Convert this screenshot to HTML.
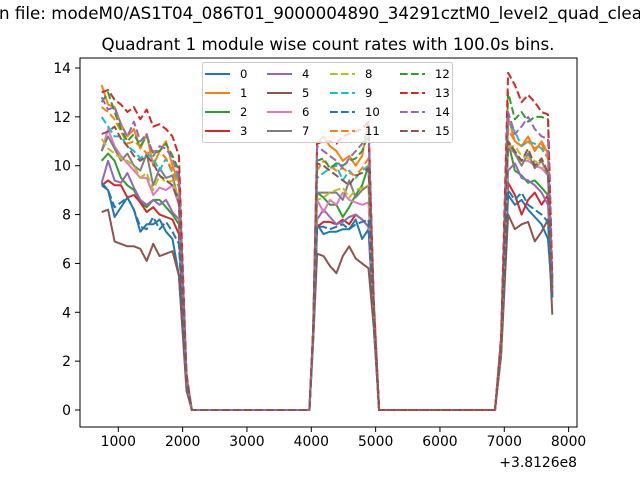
<!DOCTYPE html>
<html><head><meta charset="utf-8"><style>
body{margin:0;background:#fff;}
svg text{font-family:"DejaVu Sans","Liberation Sans",sans-serif;}
</style></head><body>
<svg id="c" width="640" height="480" xmlns="http://www.w3.org/2000/svg">
<rect width="640" height="480" fill="#fff"/>
<text x="-1" y="19" font-size="16.7">n file: modeM0/AS1T04_086T01_9000004890_34291cztM0_level2_quad_clean.evt</text>
<text x="328" y="50" font-size="16.7" text-anchor="middle">Quadrant 1 module wise count rates with 100.0s bins.</text>
<g id="plot"></g>
<rect x="80" y="58" width="497" height="369" fill="none" stroke="#000" stroke-width="1"/>
<g id="axes"></g>
<text x="577" y="467" font-size="13.9" text-anchor="end">+3.8126e8</text>
<g id="legend"></g>
</svg>
<script>
const xTicks=[1000,2000,3000,4000,5000,6000,7000,8000];
const yTicks=[0,2,4,6,8,10,12,14];
const names=["0","1","2","3","4","5","6","7","8","9","10","11","12","13","14","15"];
const colors=["#1f77b4","#ff7f0e","#2ca02c","#d62728","#9467bd","#8c564b","#e377c2","#7f7f7f","#bcbd22","#17becf","#1f77b4","#ff7f0e","#2ca02c","#d62728","#9467bd","#8c564b"];
const times1=[742,842,942,1042,1142,1242,1342,1442,1542,1642,1742,1842,1942];
const timeDrop1=2060, gap1=[2142,3970], timeRise2=4030;
const times2=[4090,4190,4290,4390,4490,4590,4690,4790,4890];
const timeDrop2=4970, gap2=[5054,6856], timeRise3=6950;
const times3=[7060,7165,7270,7370,7475,7580,7680];
const timeLast=7746;
const seg1=[
[9.2,9.0,7.9,8.3,8.7,8.2,7.3,7.6,7.6,7.8,7.3,7.0,5.5],
[13.3,12.5,12.4,11.7,11.2,11.5,10.7,11.3,10.0,10.6,11.0,10.0,9.3],
[10.2,10.5,10.2,9.5,9.2,9.0,8.5,8.3,8.6,8.6,8.3,8.0,7.6],
[9.2,9.4,9.2,9.2,8.7,8.8,8.5,8.1,8.3,8.0,7.9,7.8,7.2],
[9.3,10.2,9.4,9.3,9.7,9.1,8.6,8.4,8.6,8.4,8.6,8.1,7.8],
[8.1,8.2,6.9,6.8,6.7,6.7,6.6,6.1,6.8,6.3,6.4,6.5,5.5],
[10.6,11.5,10.8,10.4,10.1,9.8,9.5,9.5,8.8,9.1,9.0,9.2,8.4],
[10.6,11.2,10.7,10.2,10.5,10.0,9.8,10.5,9.2,9.9,9.5,9.6,8.5],
[11.1,10.7,10.5,10.3,10.2,10.0,9.5,9.7,9.0,9.6,9.3,9.4,8.6],
[12.0,11.6,11.2,11.2,10.8,10.6,10.3,10.5,10.3,9.8,10.3,9.7,9.5],
[9.3,9.0,8.3,8.5,8.7,8.2,7.5,7.4,7.9,7.4,7.7,7.3,6.8],
[12.4,12.2,11.9,11.4,10.9,11.0,10.8,10.5,10.6,10.6,10.3,9.8,9.1],
[12.6,13.0,12.2,11.5,11.0,11.3,10.8,11.2,10.5,10.6,10.9,10.4,9.8],
[13.0,13.1,12.7,12.5,12.2,12.4,11.9,12.3,11.6,11.7,11.5,11.2,10.4],
[12.8,12.3,12.4,11.7,11.2,11.8,11.0,11.3,10.4,10.8,10.7,10.3,9.5],
[11.3,11.4,11.6,11.1,10.8,10.4,10.2,10.4,10.1,9.6,9.4,9.2,8.5]];
const seg2=[
[7.6,7.2,7.3,7.3,7.4,7.4,7.8,7.0,7.4],
[10.9,11.2,10.8,10.6,10.2,10.4,10.0,10.4,11.8],
[8.9,8.7,8.4,8.4,7.9,8.3,8.8,9.2,10.0],
[7.5,7.7,7.7,7.6,7.8,7.6,8.0,7.8,7.5],
[7.8,8.2,7.9,7.6,7.7,7.9,8.0,7.8,7.5],
[6.4,6.3,5.9,5.6,6.3,6.7,6.2,6.0,5.8],
[8.6,8.1,8.6,8.4,8.9,8.6,8.5,8.4,8.5],
[8.9,8.9,8.9,8.9,8.6,9.4,8.7,9.0,9.2],
[8.6,8.7,8.9,9.0,9.1,8.7,9.0,9.1,9.2],
[9.5,9.7,9.9,10.0,9.4,9.8,9.5,9.8,10.0],
[7.5,7.5,7.4,7.5,7.6,7.4,7.6,7.7,7.8],
[9.8,10.2,10.0,9.8,9.9,9.7,9.6,9.9,10.3],
[10.2,10.3,9.9,10.1,10.0,10.2,10.3,10.6,11.3],
[10.9,11.0,11.0,10.9,11.2,11.3,11.4,11.5,11.8],
[10.8,10.6,10.4,10.2,9.9,10.3,10.6,10.9,11.5],
[10.1,10.0,9.8,9.6,9.4,9.2,9.6,9.7,9.9]];
const seg3=[
[8.8,8.4,8.6,8.2,7.9,7.6,7.0],
[12.0,11.0,10.8,11.2,10.6,11.0,10.5],
[11.0,9.8,9.6,9.3,9.4,9.1,8.8],
[9.3,8.8,8.0,8.6,8.9,8.4,8.8],
[9.8,10.1,9.5,9.4,9.2,8.9,8.4],
[8.0,7.4,7.6,7.7,6.9,7.3,7.8],
[10.8,10.5,10.2,10.2,10.0,9.9,9.6],
[11.0,10.5,10.0,10.5,9.9,10.2,9.6],
[10.8,10.8,10.4,10.3,10.2,10.0,9.8],
[11.8,11.4,10.8,11.0,10.9,10.7,10.3],
[9.0,8.6,8.9,8.4,8.2,8.0,7.7],
[11.5,11.0,10.8,11.0,10.7,10.9,10.3],
[13.0,11.9,12.2,11.8,12.0,12.0,11.9],
[13.8,13.3,12.6,12.9,12.6,12.2,12.1],
[12.2,11.3,11.6,12.0,11.5,11.2,11.1],
[11.0,10.6,10.2,10.7,10.0,10.3,9.7]];
const drop1=[1.0,1.2,1.1,1.0,1.3,0.8,1.2,1.1,1.3,1.4,1.0,1.2,1.4,1.5,1.3,1.2];
const rise2=[3.0,3.2,3.1,3.0,3.1,2.8,3.1,3.2,3.1,3.3,3.0,3.2,3.3,3.4,3.3,3.2];
const drop2=[3.6,4.2,4.0,3.8,4.0,3.4,4.0,4.1,4.0,4.3,3.8,4.2,4.5,4.6,4.4,4.2];
const rise3=[2.4,2.7,2.6,2.5,2.6,2.2,2.6,2.6,2.6,2.8,2.5,2.7,2.9,3.0,2.8,2.7];
const last=[4.6,5.0,4.8,4.7,4.9,3.9,4.9,5.0,5.0,5.2,4.6,5.0,5.4,5.5,5.2,5.0];

const X=v=>118.3+(v-1000)*0.06433;
const Y=v=>410-v*342/14;
const NS="http://www.w3.org/2000/svg";
function mk(t,a,p){const e=document.createElementNS(NS,t);for(const k in a)e.setAttribute(k,a[k]);(p||document.getElementById('plot')).appendChild(e);return e;}
const ax=document.getElementById('axes');
xTicks.forEach(t=>{const l=mk('line',{x1:X(t),x2:X(t),y1:427,y2:432,stroke:'#000'},ax);


const tx=mk('text',{x:X(t),y:446,'font-size':13.9,'text-anchor':'middle'},ax);tx.textContent=t;

});
yTicks.forEach(t=>{const l=mk('line',{x1:75,x2:80,y1:Y(t),y2:Y(t),stroke:'#000'},ax);


const tx=mk('text',{x:71,y:Y(t)+5,'font-size':13.9,'text-anchor':'end'},ax);tx.textContent=t;

});
const allT=[].concat(times1,[timeDrop1],gap1,[timeRise2],times2,[timeDrop2],gap2,[timeRise3],times3,[timeLast]);
for(let s=0;s<16;s++){
 const vals=[].concat(seg1[s],[drop1[s],0,0,rise2[s]],seg2[s],[drop2[s],0,0,rise3[s]],seg3[s],[last[s]]);
 const pts=vals.map((v,i)=>X(allT[i]).toFixed(1)+','+Y(v).toFixed(1)).join(' ');
 const a={points:pts,fill:'none',stroke:colors[s],'stroke-width':2,'stroke-linejoin':'round'};
 if(s>=8)a['stroke-dasharray']='7.7,3.3';
 const p=mk('polyline',a);
 
 
}
const lg=document.getElementById('legend');
const box=mk('rect',{x:202.5,y:62.5,width:250,height:80,rx:2,fill:'#fff','fill-opacity':0.8,stroke:'#ccc'},lg);


const colX=[205,267,330,400];
for(let s=0;s<16;s++){
 const c=Math.floor(s/4),r=s%4,x=colX[c],y=74+r*19;
 const a={x1:x,x2:x+25,y1:y,y2:y,stroke:colors[s],'stroke-width':2};
 if(s>=8)a['stroke-dasharray']='7.7,3.3';
 const l=mk('line',a,lg);
 
 
 const t=mk('text',{x:x+35,y:y+4,'font-size':11.6},lg);t.textContent=names[s];
 
 
}
</script>
</body></html>
